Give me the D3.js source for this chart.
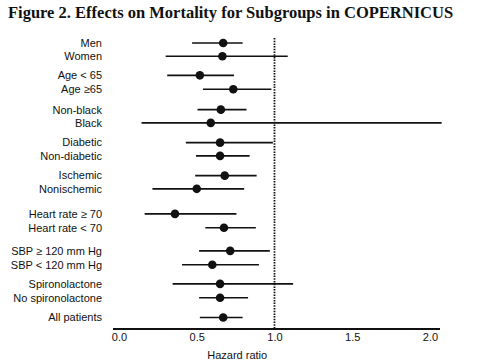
<!DOCTYPE html>
<html lang="en">
<head>
<meta charset="utf-8">
<script src="https://cdn.jsdelivr.net/npm/d3@7"></script>
<style>
  body { margin: 0; background: #fff; }
  svg { display: block; background: #fff; }
  .title { font-family: "Liberation Serif", "Times New Roman", serif; font-weight: bold; font-size: 16.5px; fill: #111; }
  .lbl, .tick text, .xlabel { font-family: "Liberation Sans", Arial, sans-serif; font-size: 11px; fill: #111; }
  .ci { stroke: #111; stroke-width: 1.6px; }
  .dot { fill: #111; }
  .ref { stroke: #111; stroke-width: 1.8px; stroke-dasharray: 1.5 1.2; }
</style>
</head>
<body>
<svg width="480" height="364"></svg>
<script>
// subgroups, top to bottom
var groups = ["Men", "Women", "Age < 65", "Age  \u226565", "Non-black", "Black",
  "Diabetic", "Non-diabetic", "Ischemic", "Nonischemic",
  "Heart rate \u2265 70", "Heart rate < 70", "SBP \u2265 120 mm Hg", "SBP < 120 mm Hg",
  "Spironolactone", "No spironolactone", "All patients"];
// row positions in line units (gaps between sections)
var rowPos = [0, 1, 2.45, 3.5, 5.05, 6.05, 7.55, 8.55, 10.05, 11.05,
  12.95, 14.0, 15.75, 16.8, 18.25, 19.3, 20.8];
var hr    = [0.67, 0.665, 0.52, 0.735, 0.655, 0.59, 0.65, 0.65, 0.68, 0.50, 0.36, 0.675, 0.715, 0.60, 0.65, 0.65, 0.67];
var lower = [0.47, 0.30, 0.31, 0.54, 0.505, 0.145, 0.43, 0.495, 0.49, 0.215, 0.165, 0.555, 0.515, 0.405, 0.345, 0.515, 0.52];
var upper = [0.795, 1.085, 0.74, 0.98, 0.82, 2.075, 0.99, 0.84, 0.885, 0.805, 0.755, 0.88, 0.97, 0.90, 1.12, 0.83, 0.795];
var xTicks = [0, 0.5, 1.0, 1.5, 2.0];

var svg = d3.select("svg");

var x = d3.scaleLinear().domain([0, 2]).range([119, 430]);
var y = d3.scaleLinear().domain([0, 20.8]).range([43, 317.5]);

svg.append("text").attr("class", "title")
  .attr("x", 8).attr("y", 18)
  .text("Figure 2. Effects on Mortality for Subgroups in COPERNICUS");

// reference line at HR = 1
svg.append("line").attr("class", "ref")
  .attr("x1", x(1)).attr("x2", x(1))
  .attr("y1", 38).attr("y2", 328);

var rows = svg.append("g").selectAll("g")
  .data(groups)
  .enter().append("g")
    .attr("transform", (d, i) => "translate(0," + y(rowPos[i]) + ")");

rows.append("text").attr("class", "lbl")
  .attr("x", 102).attr("dy", "0.35em")
  .attr("text-anchor", "end")
  .text(d => d);

rows.append("line").attr("class", "ci")
  .attr("x1", (d, i) => x(lower[i]))
  .attr("x2", (d, i) => x(upper[i]));

rows.append("circle").attr("class", "dot")
  .attr("r", 4.3)
  .attr("cx", (d, i) => x(hr[i]));

// x axis
var axis = svg.append("g")
  .attr("transform", "translate(0,329)")
  .call(d3.axisBottom(x).tickValues(xTicks).tickFormat(d3.format(".1f")).tickSize(0).tickPadding(4));
axis.select(".domain").remove();
axis.append("line")
  .attr("x1", 113).attr("x2", 440)
  .attr("stroke", "#111").attr("stroke-width", 1.8);

svg.append("text").attr("class", "xlabel")
  .attr("x", x(0.76)).attr("y", 359)
  .attr("text-anchor", "middle")
  .text("Hazard ratio");
</script>
</body>
</html>
